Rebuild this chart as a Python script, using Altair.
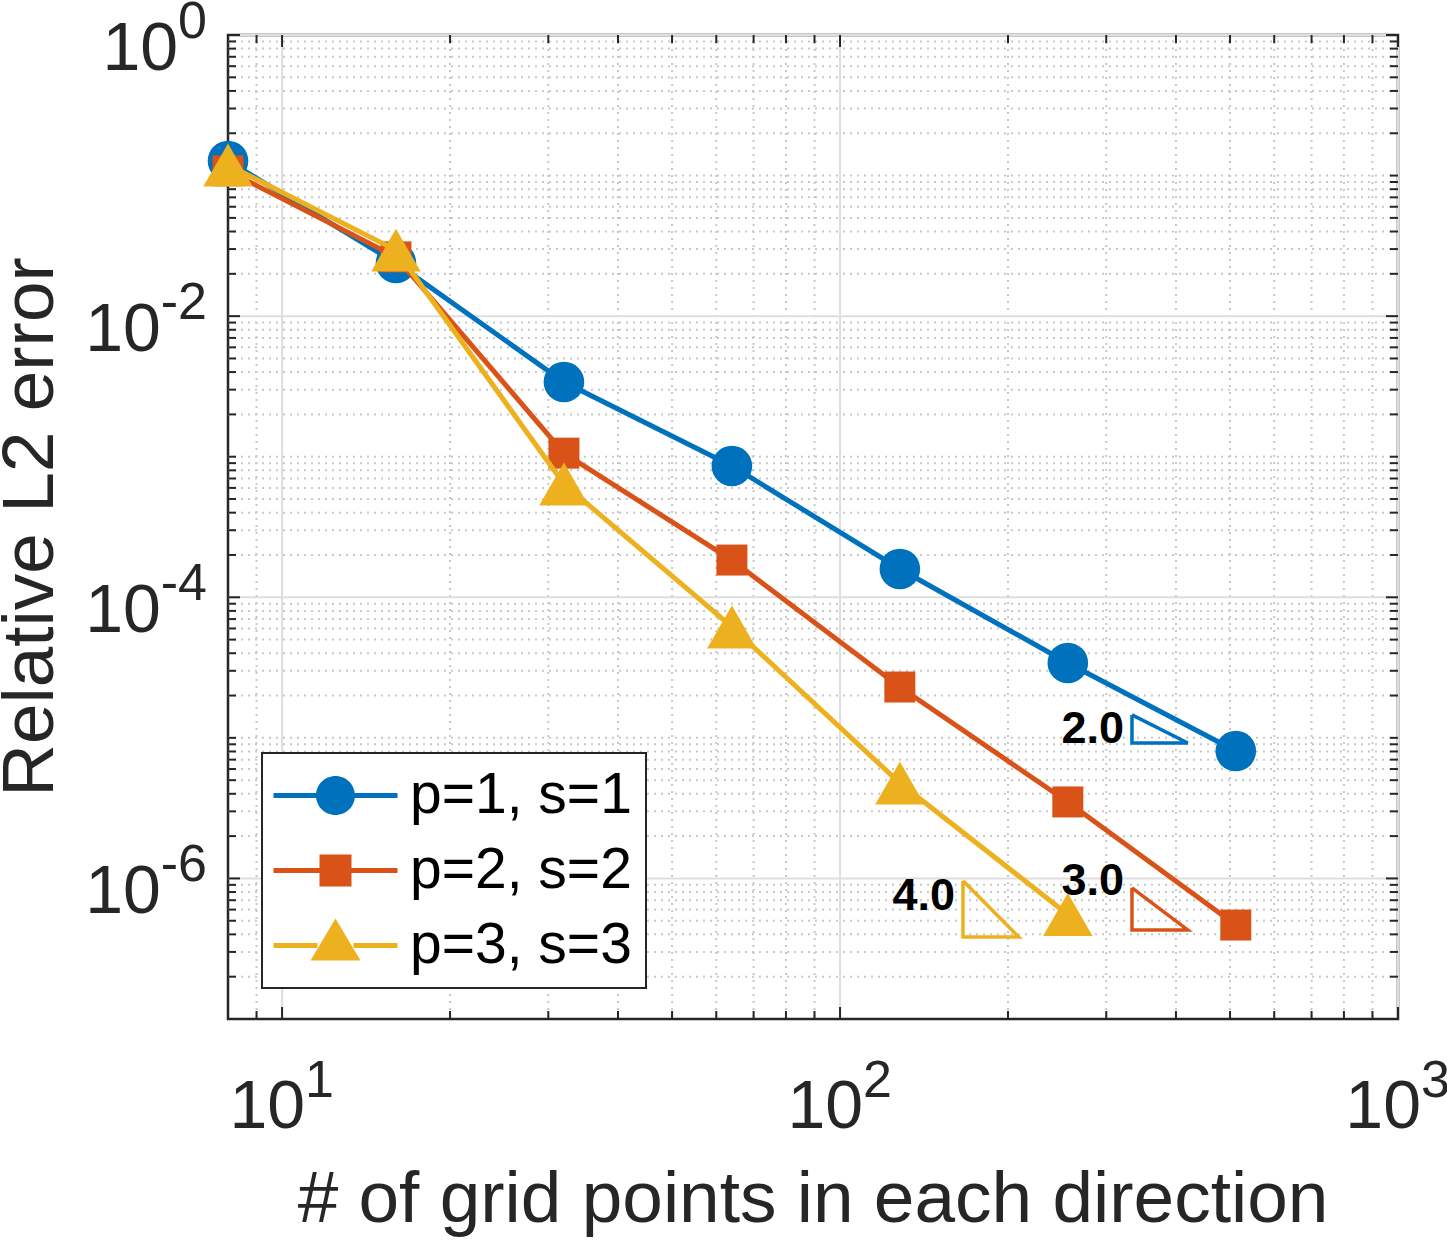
import altair as alt
import pandas as pd

FONT = "Liberation Sans"
AXIS_COLOR = "#262626"

# grid sizes and relative L2 errors of each discretisation
n_points = [8, 16, 32, 64, 128, 256, 512]
err_p1 = [0.127, 0.0239, 0.0034, 8.59e-4, 1.59e-4, 3.41e-5, 8.06e-6]
err_p2 = [0.108, 0.0264, 1.06e-3, 1.84e-4, 2.30e-5, 3.50e-6, 4.66e-7]
err_p3 = [0.119, 0.0295, 6.40e-4, 6.15e-5, 4.77e-6, 5.54e-7]

series_names = ["p=1, s=1", "p=2, s=2", "p=3, s=3"]
series_errors = [err_p1, err_p2, err_p3]
series_colors = ["#0072BD", "#D95319", "#EDB120"]
series_shapes = ["circle", "square", "triangle-up"]
series_sizes = [1650, 961, 2450]

# reference slope triangles: convergence order, lower-left corner, label anchor
slope_orders = [2.0, 3.0, 4.0]
slope_x0 = [333.6, 333.6, 166.1]
slope_y0 = [9.19e-6, 4.30e-7, 3.83e-7]
slope_label_y = [9.19e-6, 7.62e-7, 5.96e-7]
slope_colors = ["#0072BD", "#D95319", "#EDB120"]
slope_run = 10 ** 0.1  # each triangle spans a tenth of a decade

# axis ticks
x_major = [10, 100, 1000]
x_major_exp = ["1", "2", "3"]
x_minor = [9] + [m * 10 for m in range(2, 10)] + [m * 100 for m in range(2, 10)]
y_major = [1.0, 1e-2, 1e-4, 1e-6]
y_major_exp = ["0", "-2", "-4", "-6"]
y_minor = [m * 10.0 ** k for k in range(-7, 0) for m in range(1, 10)
           if not (m == 1 and k in (-7, -6, -4, -2))]

x_title = "# of grid points in each direction"
y_title = "Relative L2 error"

# legend symbols: a line segment through the marker (unit = half the symbol size)
legend_paths = [
    "M-3.1,-0.125L-0.9,-0.125L-0.9,0.125L-3.1,0.125Z"
    "M0.9,-0.125L3.1,-0.125L3.1,0.125L0.9,0.125Z"
    "M-0.975,0A0.975,0.975,0,1,1,0.975,0A0.975,0.975,0,1,1,-0.975,0Z",
    "M-3.1,-0.125L-0.7,-0.125L-0.7,0.125L-3.1,0.125Z"
    "M0.7,-0.125L3.1,-0.125L3.1,0.125L0.7,0.125Z"
    "M-0.8,-0.8L0.8,-0.8L0.8,0.8L-0.8,0.8Z",
    "M-3.1,-0.125L-0.9,-0.125L-0.9,0.125L-3.1,0.125Z"
    "M0.9,-0.125L3.1,-0.125L3.1,0.125L0.9,0.125Z"
    "M0,-1.35L1.25,0.75L-1.25,0.75Z",
]

W, H = 1170, 984
xscale = alt.Scale(type="log", domain=[8, 1000], nice=False)
yscale = alt.Scale(type="log", domain=[1e-7, 1], nice=False)

layers = []

# grid
minor_x_df = pd.DataFrame({"v": x_minor})
minor_y_df = pd.DataFrame({"v": y_minor})
major_x_df = pd.DataFrame({"v": x_major})
major_y_df = pd.DataFrame({"v": y_major})
grid_minor = dict(color="#c8c8c8", strokeWidth=2, strokeDash=[2, 5])
grid_major = dict(color="#dedede", strokeWidth=2)
layers.append(alt.Chart(minor_x_df).mark_rule(**grid_minor).encode(
    x=alt.X("v:Q", scale=xscale, axis=None)))
layers.append(alt.Chart(minor_y_df).mark_rule(**grid_minor).encode(
    y=alt.Y("v:Q", scale=yscale, axis=None)))
layers.append(alt.Chart(major_x_df).mark_rule(**grid_major).encode(
    x=alt.X("v:Q", scale=xscale, axis=None)))
layers.append(alt.Chart(major_y_df).mark_rule(**grid_major).encode(
    y=alt.Y("v:Q", scale=yscale, axis=None)))

# inward ticks on all four sides
tick_style = dict(color=AXIS_COLOR, strokeWidth=2)
for df, length in ((major_x_df, 12), (minor_x_df, 8)):
    layers.append(alt.Chart(df).mark_rule(**tick_style).encode(
        x=alt.X("v:Q", scale=xscale, axis=None), y=alt.value(H), y2=alt.value(H - length)))
    layers.append(alt.Chart(df).mark_rule(**tick_style).encode(
        x=alt.X("v:Q", scale=xscale, axis=None), y=alt.value(0), y2=alt.value(length)))
for df, length in ((major_y_df, 12), (minor_y_df, 8)):
    layers.append(alt.Chart(df).mark_rule(**tick_style).encode(
        y=alt.Y("v:Q", scale=yscale, axis=None), x=alt.value(0), x2=alt.value(length)))
    layers.append(alt.Chart(df).mark_rule(**tick_style).encode(
        y=alt.Y("v:Q", scale=yscale, axis=None), x=alt.value(W), x2=alt.value(W - length)))

# convergence curves
for name, errs, color, shape, size in zip(
        series_names, series_errors, series_colors, series_shapes, series_sizes):
    df = pd.DataFrame({"n": n_points[:len(errs)], "err": errs, "series": name})
    xe = alt.X("n:Q", scale=xscale, axis=None)
    ye = alt.Y("err:Q", scale=yscale, axis=None)
    layers.append(alt.Chart(df).mark_line(color=color, strokeWidth=5).encode(
        x=xe, y=ye, order="n:Q"))
    layers.append(alt.Chart(df).mark_point(
        filled=True, shape=shape, size=size, color=color, opacity=1, strokeWidth=0).encode(
        x=xe, y=ye))

# slope triangles with their order labels
for order, x0, y0, ly, color in zip(slope_orders, slope_x0, slope_y0, slope_label_y, slope_colors):
    y_top = y0 * 10 ** (order * 0.1)
    tri = pd.DataFrame({
        "k": [0, 1, 2, 3],
        "x": [x0, x0, x0 * slope_run, x0],
        "y": [y_top, y0, y0, y_top],
    })
    layers.append(alt.Chart(tri).mark_line(color=color, strokeWidth=3.5, strokeJoin="miter").encode(
        x=alt.X("x:Q", scale=xscale, axis=None), y=alt.Y("y:Q", scale=yscale, axis=None),
        order="k:Q"))
    lab = pd.DataFrame({"x": [x0], "y": [ly], "t": [f"{order:.1f}"]})
    layers.append(alt.Chart(lab).mark_text(
        align="right", baseline="alphabetic", dx=-8, font=FONT, fontSize=45,
        fontWeight="bold", color="black").encode(
        x=alt.X("x:Q", scale=xscale, axis=None), y=alt.Y("y:Q", scale=yscale, axis=None),
        text="t:N"))

# tick labels as 10 with a raised exponent
BASE_FS, EXP_FS = 68, 52
xl = pd.DataFrame({"v": x_major, "e": x_major_exp})
layers.append(alt.Chart(xl).mark_text(
    text="10", align="right", baseline="alphabetic", dx=23, font=FONT, fontSize=BASE_FS,
    color=AXIS_COLOR).encode(x=alt.X("v:Q", scale=xscale, axis=None), y=alt.value(H + 109)))
layers.append(alt.Chart(xl).mark_text(
    align="left", baseline="alphabetic", dx=23, font=FONT, fontSize=EXP_FS,
    color=AXIS_COLOR).encode(x=alt.X("v:Q", scale=xscale, axis=None), y=alt.value(H + 78),
                             text="e:N"))
yl = pd.DataFrame({"v": y_major, "e": y_major_exp})
layers.append(alt.Chart(yl).transform_calculate(
    px=f"-21 - {EXP_FS} * (length(datum.e) > 1 ? 0.889 : 0.556)"
).mark_text(
    text="10", align="right", baseline="alphabetic", dy=35, font=FONT, fontSize=BASE_FS,
    color=AXIS_COLOR).encode(x=alt.X("px:Q", scale=None), y=alt.Y("v:Q", scale=yscale, axis=None)))
layers.append(alt.Chart(yl).mark_text(
    align="right", baseline="alphabetic", dy=3, font=FONT, fontSize=EXP_FS,
    color=AXIS_COLOR).encode(x=alt.value(-21), y=alt.Y("v:Q", scale=yscale, axis=None),
                             text="e:N"))

# axis titles
title_df = pd.DataFrame({"t": [x_title]})
layers.append(alt.Chart(title_df).mark_text(
    align="center", baseline="alphabetic", font=FONT, fontSize=73, color=AXIS_COLOR).encode(
    x=alt.value(W / 2), y=alt.value(H + 203), text="t:N"))
ytitle_df = pd.DataFrame({"t": [y_title]})
layers.append(alt.Chart(ytitle_df).mark_text(
    align="center", baseline="alphabetic", angle=270, font=FONT, fontSize=73,
    color=AXIS_COLOR).encode(x=alt.value(-175), y=alt.value(H / 2), text="t:N"))

# legend
leg = alt.Legend(title=None, orient="none", legendX=34, legendY=718, direction="vertical",
                 padding=14, symbolSize=1600, symbolStrokeWidth=0, symbolOffset=31,
                 labelOffset=46, labelFontSize=57, labelFont=FONT, labelColor="black",
                 rowPadding=17, labelLimit=1000, symbolOpacity=1)
legend_df = pd.DataFrame({"series": series_names})
layers.append(alt.Chart(legend_df).transform_filter("false").mark_point(filled=True).encode(
    color=alt.Color("series:N", scale=alt.Scale(domain=series_names, range=series_colors),
                    legend=leg),
    shape=alt.Shape("series:N", scale=alt.Scale(domain=series_names, range=legend_paths),
                    legend=leg)))

chart = alt.layer(*layers).properties(
    width=W, height=H, autosize="none",
    padding={"left": 228, "top": 35, "right": 49, "bottom": 223},
).configure_view(stroke=AXIS_COLOR, strokeWidth=2.5).configure_legend(
    strokeColor=AXIS_COLOR, strokeWidth=2, fillColor="white", cornerRadius=0
)

chart.save("out.html", embed_options={"renderer": "svg", "actions": False})
